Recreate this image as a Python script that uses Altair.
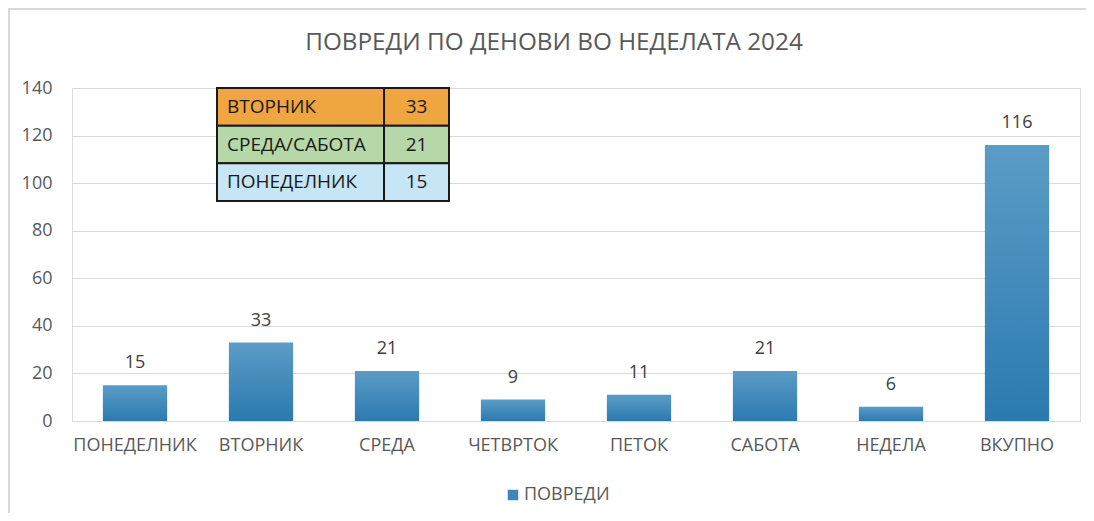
import altair as alt
import pandas as pd

# ---- data ----
days = ["ПОНЕДЕЛНИК", "ВТОРНИК", "СРЕДА", "ЧЕТВРТОК", "ПЕТОК", "САБОТА", "НЕДЕЛА", "ВКУПНО"]
injuries = [15, 33, 21, 9, 11, 21, 6, 116]
series_name = "ПОВРЕДИ"
y_ticks = [0, 20, 40, 60, 80, 100, 120, 140]

table_labels = ["ВТОРНИК", "СРЕДА/САБОТА", "ПОНЕДЕЛНИК"]
table_values = [33, 21, 15]
table_colors = ["#efa540", "#b6d7a8", "#c6e6f6"]

title_text = "ПОВРЕДИ ПО ДЕНОВИ ВО НЕДЕЛАТА 2024"

FONT = "Open Sans"
TXT = "#595959"
GRID = "#d9d9d9"

df = pd.DataFrame({"day": days, "value": injuries, "series": series_name})
tdf = pd.DataFrame({
    "label": table_labels,
    "value": table_values,
    "color": table_colors,
    "row": list(range(len(table_labels))),
})
tdf["row2"] = tdf["row"] + 1

W, H = 1008, 333

xscale = alt.Scale(domain=days, paddingInner=0.49, paddingOuter=0.245)
yscale = alt.Scale(domain=[0, 140])

grad = alt.Gradient(
    gradient="linear",
    x1=0, y1=0, x2=0, y2=1,
    stops=[alt.GradientStop(color="#5b9cc6", offset=0),
           alt.GradientStop(color="#2b7ab0", offset=1)],
)

base = alt.Chart(df)

bars = base.mark_bar(color=grad).encode(
    x=alt.X("day:N", scale=xscale, sort=days, title=None,
            axis=alt.Axis(labelAngle=0, labelFont=FONT, labelFontSize=18, labelColor=TXT,
                          labelPadding=15, ticks=False, domainColor=GRID, domainWidth=1)),
    y=alt.Y("value:Q", scale=yscale, title=None,
            axis=alt.Axis(values=y_ticks, grid=True, gridColor=GRID, domain=False, ticks=False,
                          labelFont=FONT, labelFontSize=18, labelColor=TXT, labelPadding=20)),
)

labels = base.mark_text(font=FONT, fontSize=18, color="#404040", baseline="bottom", dy=-13).encode(
    x=alt.X("day:N", scale=xscale, sort=days, axis=None),
    y=alt.Y("value:Q", scale=yscale, axis=None),
    text=alt.Text("value:Q"),
)

legend_layer = base.mark_square(opacity=0).encode(
    x=alt.value(0), y=alt.value(0),
    color=alt.Color("series:N", scale=alt.Scale(range=["#3b87ba"]),
                    legend=alt.Legend(title=None, orient="none", legendX=432, legendY=398,
                                      symbolType="square", symbolSize=110, symbolOpacity=1,
                                      labelFont=FONT, labelFontSize=18, labelColor=TXT,
                                      symbolStrokeWidth=0, labelOffset=2)),
)

tx = alt.Scale(domain=[0, 1], range=[145, 377])
ty = alt.Scale(domain=[0, 3], range=[0, 113])
tbase = alt.Chart(tdf)

cell_label = tbase.mark_rect(stroke="#1a1a1a", strokeWidth=2).encode(
    x=alt.X("x0:Q", scale=tx, axis=None), x2="x1:Q",
    y=alt.Y("row:Q", scale=ty, axis=None), y2="row2:Q",
    fill=alt.Fill("color:N", scale=None),
).transform_calculate(x0="0", x1="0.72")

cell_value = tbase.mark_rect(stroke="#1a1a1a", strokeWidth=2).encode(
    x=alt.X("x0:Q", scale=tx, axis=None), x2="x1:Q",
    y=alt.Y("row:Q", scale=ty, axis=None), y2="row2:Q",
    fill=alt.Fill("color:N", scale=None),
).transform_calculate(x0="0.72", x1="1")

text_label = tbase.mark_text(font=FONT, fontSize=19, color="#1a1a1a", align="left", baseline="middle", dx=10).encode(
    x=alt.X("x0:Q", scale=tx, axis=None),
    y=alt.Y("ym:Q", scale=ty, axis=None),
    text="label:N",
).transform_calculate(x0="0", ym="datum.row + 0.5")

text_value = tbase.mark_text(font=FONT, fontSize=19, color="#1a1a1a", align="center", baseline="middle").encode(
    x=alt.X("x0:Q", scale=tx, axis=None),
    y=alt.Y("ym:Q", scale=ty, axis=None),
    text="value:Q",
).transform_calculate(x0="0.86", ym="datum.row + 0.5")

table = alt.layer(cell_label, cell_value, text_label, text_value)

one = alt.Chart(pd.DataFrame({"a": [0]}))

border = one.mark_rect(
    fill=None, stroke=GRID, strokeWidth=2, clip=False
).encode(x=alt.value(-63), x2=alt.value(1040), y=alt.value(-79), y2=alt.value(450))

title = one.mark_text(
    text=title_text, font=FONT, fontSize=24.3, color=TXT, align="center", baseline="middle", clip=False
).encode(x=alt.value(482), y=alt.value(-45))

chart = alt.layer(border, title, bars, labels, legend_layer, table).resolve_scale(
    x="independent", y="independent"
).properties(
    width=W, height=H,
    padding={"left": 64, "top": 80, "right": 6, "bottom": 92},
    autosize=alt.AutoSizeParams(type="none"),
).configure_view(stroke=None).configure(background="white")

chart.save("out.html", embed_options={"renderer": "svg", "actions": False})
